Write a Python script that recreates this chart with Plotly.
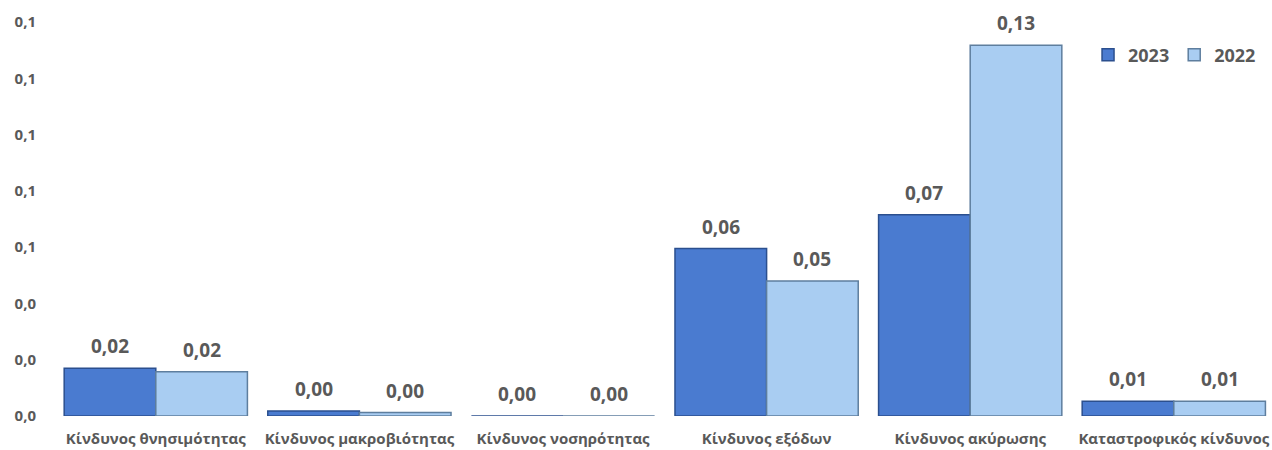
import plotly.graph_objects as go

categories = ["Κίνδυνος θνησιμότητας", "Κίνδυνος μακροβιότητας", "Κίνδυνος νοσηρότητας",
              "Κίνδυνος εξόδων", "Κίνδυνος ακύρωσης", "Καταστροφικός κίνδυνος"]
values_2023 = [0.0170, 0.0018, 0.0, 0.0595, 0.0715, 0.0052]
values_2022 = [0.0157, 0.0012, 0.0, 0.0480, 0.1317, 0.0052]
series_names = ["2023", "2022"]
y_ticks = [0, 0.02, 0.04, 0.06, 0.08, 0.10, 0.12, 0.14]

text_color = "#595959"
font_family = "'Open Sans', sans-serif"

W, H = 1272, 450
ml, mr, mt, mb = 54, 0, 22, 34
plot_w = W - ml - mr
pitch = 203.6
x_hi = -0.5 + plot_w / pitch
bargap = 0.10
bar_px = pitch * (1 - bargap) / 2

fig = go.Figure()
series = [
    (series_names[0], values_2023, "#4A7BD0", "#2B4F8E", -1),
    (series_names[1], values_2022, "#A9CDF2", "#5E7E9E", 1),
]
for name, vals, color, line, side in series:
    fig.add_trace(go.Bar(
        x=categories, y=vals, name=name,
        marker=dict(color=color, line=dict(color=line, width=1.5)),
        hoverinfo="x+y",
    ))
    for c, v in zip(categories, vals):
        fig.add_annotation(
            x=c, y=v, xref="x", yref="y",
            text=f"{v:.2f}".replace(".", ","),
            showarrow=False, xshift=side * bar_px / 2, yshift=22, yanchor="middle",
            font=dict(size=19, color=text_color, family=font_family, weight="bold"),
        )

fig.update_layout(
    width=W, height=H,
    margin=dict(l=ml, r=mr, t=mt, b=mb, autoexpand=False),
    plot_bgcolor="white", paper_bgcolor="white",
    separators=",.",
    barmode="group", bargap=bargap, bargroupgap=0,
    font=dict(family=font_family, color=text_color),
    legend=dict(orientation="h", x=0.991, xanchor="right", y=0.916, yanchor="middle",
                font=dict(size=18, color=text_color, family=font_family, weight="bold"),
                itemwidth=30, traceorder="normal"),
    xaxis=dict(showgrid=False, showline=False, ticks="", automargin=False,
               range=[-0.5, x_hi], ticklabelstandoff=12,
               tickfont=dict(size=15, color=text_color, family=font_family, weight="bold")),
    yaxis=dict(range=[0, 0.14], tickvals=y_ticks, tickformat=".1f", showgrid=False,
               showline=False, zeroline=False, ticks="", ticklabelstandoff=17, automargin=False,
               tickfont=dict(size=15, color=text_color, family=font_family, weight="bold")),
)
fig.write_html(
    "out.html",
    config={"displayModeBar": False},
    post_script="document.body.style.margin='0';document.body.style.overflow='hidden';",
)
